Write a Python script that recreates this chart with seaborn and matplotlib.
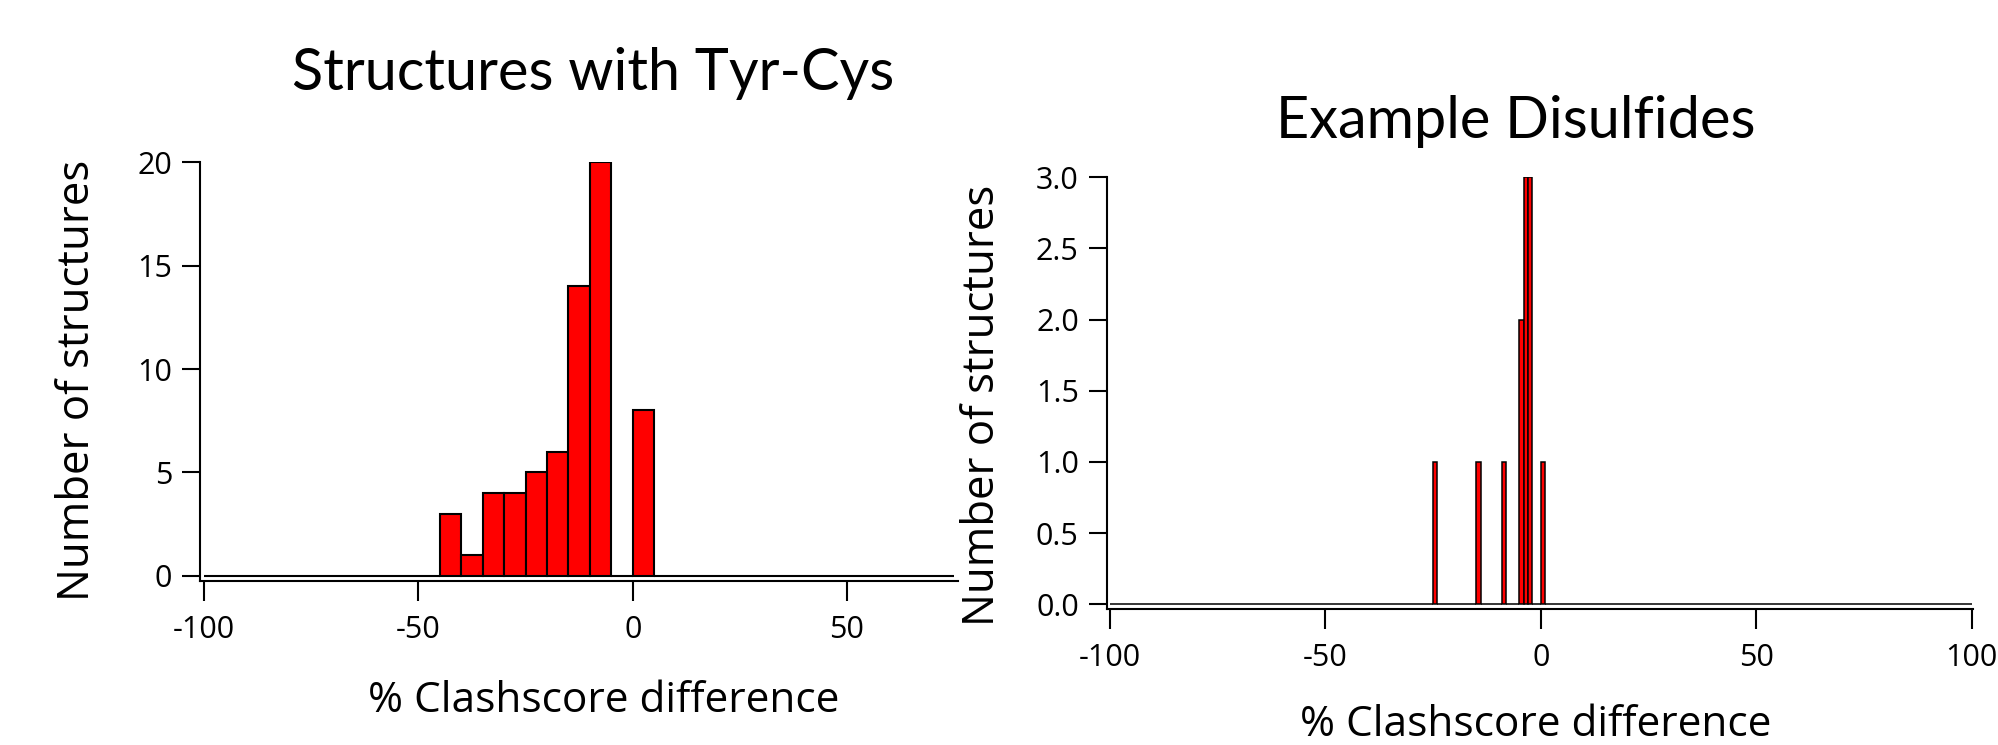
import numpy as np
import pandas as pd
import matplotlib
matplotlib.use("Agg")
import matplotlib.pyplot as plt
import seaborn as sns

# ---- data -------------------------------------------------------------
# Tyr-Cys structures: 5-unit bins, left edge of each bin and its count
tyr_cys_bin_left = [-45, -40, -35, -30, -25, -20, -15, -10, -5, 0]
tyr_cys_counts = [3, 1, 4, 4, 5, 6, 14, 20, 0, 8]

# Example disulfides: 1-unit bins, left edge of each bin and its count
disulfide_bin_left = [-25, -15, -9, -5, -4, -3, 0]
disulfide_counts = [1, 1, 1, 2, 3, 3, 1]

left_title = "Structures with Tyr-Cys"
right_title = "Example Disulfides"
x_label = "% Clashscore difference"
y_label = "Number of structures"

left_xticks = [-100, -50, 0, 50]
left_yticks = [0, 5, 10, 15, 20]
right_xticks = [-100, -50, 0, 50, 100]
right_yticks = [0.0, 0.5, 1.0, 1.5, 2.0, 2.5, 3.0]

# ---- expand binned counts into observations ---------------------------
def observations(bin_left, counts, width):
    centers = np.asarray(bin_left, dtype=float) + width / 2
    return pd.DataFrame({"diff": np.repeat(centers, counts)})

tyr_df = observations(tyr_cys_bin_left, tyr_cys_counts, 5.0)
dis_df = observations(disulfide_bin_left, disulfide_counts, 1.0)

# ---- style ------------------------------------------------------------
sns.set_style("ticks")
plt.rcParams["font.family"] = ["Open Sans", "DejaVu Sans"]
plt.rcParams["axes.unicode_minus"] = False
plt.rcParams["axes.linewidth"] = 1.5
plt.rcParams["xtick.major.width"] = 1.5
plt.rcParams["ytick.major.width"] = 1.5
for key in ("xtick.color", "ytick.color", "axes.edgecolor",
            "axes.labelcolor", "text.color"):
    plt.rcParams[key] = "black"

W, H = 1998, 745
fig = plt.figure(figsize=(W / 100, H / 100), dpi=100)

def px_axes(left, top, right, bottom):
    return fig.add_axes([left / W, 1 - bottom / H, (right - left) / W, (bottom - top) / H])

ax1 = px_axes(200.0, 162.3, 958.3, 580.7)
ax2 = px_axes(1106.6, 177.3, 1972.6, 609.3)

title_font = ["Lato", "DejaVu Sans"]
tick_size = 22
xlabel_size = 30.5
ylabel_size = 31.5

# left panel: 5-unit bins spanning -100 .. 75
sns.histplot(data=tyr_df, x="diff", bins=np.arange(-100, 80, 5), ax=ax1,
             color="#ff0000", edgecolor="black", linewidth=1.5, alpha=1)
ax1.set_xlim(-101, 76)
ax1.set_ylim(-0.24, 20)
ax1.set_xticks(left_xticks)
ax1.set_yticks(left_yticks)
ax1.set_yticklabels([f"{v:d}" for v in left_yticks])

# right panel: 1-unit bins spanning -100 .. 100
sns.histplot(data=dis_df, x="diff", bins=np.arange(-100, 101, 1), ax=ax2,
             color="#ff0000", edgecolor="black", linewidth=1.1, alpha=1)
ax2.set_xlim(-100.8, 100.2)
ax2.set_ylim(-0.035, 3.0)
ax2.set_xticks(right_xticks)
ax2.set_yticks(right_yticks)
ax2.set_yticklabels([f"{v:.1f}" for v in right_yticks])

for ax in (ax1, ax2):
    sns.despine(ax=ax)
    ax.tick_params(axis="y", direction="out", length=13, pad=7, labelsize=tick_size)
    ax.tick_params(axis="x", direction="out", length=14.5, pad=10, labelsize=tick_size)
    ax.set_xlabel(x_label, fontsize=xlabel_size, va="center")
    ax.set_ylabel(y_label, fontsize=ylabel_size, va="center")

ax1.xaxis.set_label_coords((604 - 200) / 758.3, (580.7 - 701) / 418.4)
ax1.yaxis.set_label_coords((78 - 200) / 758.3, (580.7 - 380) / 418.4)
ax2.xaxis.set_label_coords((1536 - 1106.6) / 866, (609.3 - 725) / 432)
ax2.yaxis.set_label_coords((983 - 1106.6) / 866, (609.3 - 405) / 432)

fig.text(593 / W, 1 - 73 / H, left_title, ha="center", va="center",
         fontsize=41.5, family=title_font)
fig.text(1516 / W, 1 - 121 / H, right_title, ha="center", va="center",
         fontsize=41.5, family=title_font)

fig.savefig("out.png", dpi=100, facecolor="white")
